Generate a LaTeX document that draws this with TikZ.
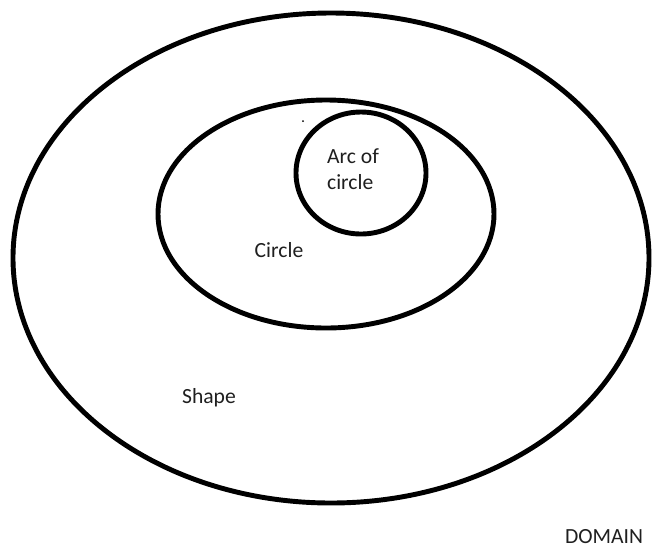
\documentclass[tikz,border=0pt]{standalone}
\usepackage{fontspec}
\setmainfont{Carlito}
\definecolor{SetText}{HTML}{1F1F1F}

\tikzset{
  setline/.style={line width=2.8pt,black},
  setlabel/.style={font=\fontsize{12.3}{14.5}\selectfont,text=SetText,inner sep=0pt}
}

\begin{document}
\begin{tikzpicture}[x=0.02cm,y=-0.02cm]
\path[use as bounding box] (0,0) rectangle (653,549);
% nested sets
\draw[setline] (331,258) ellipse (318 and 245);
\draw[setline] (326,214) ellipse (168 and 114);
\draw[setline] (361,173) ellipse (65 and 61);
\fill (303,121) circle (1);
% labels
\node[setlabel,align=left] (arc) at (353,169) {Arc of\\circle};
\node[setlabel] (circle) at (279,250) {Circle};
\node[setlabel] (shape) at (209,398) {Shape};
\node[setlabel] (domain) at (604,537) {DOMAIN};
\end{tikzpicture}
\end{document}
